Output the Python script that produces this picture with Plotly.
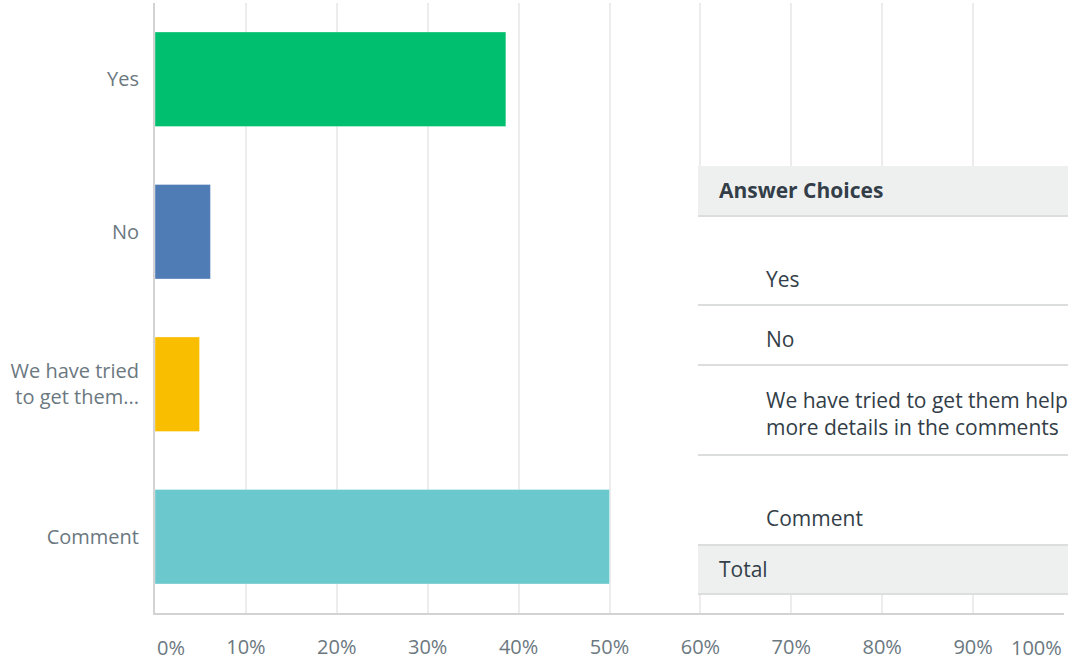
import plotly.graph_objects as go

categories = ["Yes", "No", "We have tried<br>to get them...", "Comment"]
values = [38.6, 6.1, 4.9, 50.0]
colors = ["#00bf6f", "#507cb6", "#f9be00", "#6bc8cd"]
tick_vals = [0, 10, 20, 30, 40, 50, 60, 70, 80, 90, 100]
tick_text = ["0%", "10%", "20%", "30%", "40%", "50%", "60%", "70%", "80%", "90%", "100%"]

table_header = "Answer Choices"
table_rows = ["Yes", "No", "We have tried to get them help, see<br>more details in the comments", "Comment"]
table_total = "Total"

W, H = 1068, 662
L, R, T, B = 155, 4, 3, 49
pw, ph = W - L - R, H - T - B


def px(x):
    return (x - L) / pw


def py(y):
    return 1 - (y - T) / ph


fig = go.Figure()
fig.add_trace(go.Bar(
    y=categories, x=values, orientation="h",
    marker=dict(color=colors, line=dict(color="rgba(255,255,255,0.35)", width=1)),
    width=0.62, hoverinfo="skip",
))

shapes = []
shapes.append(dict(type="rect", xref="paper", yref="paper", x0=px(698), x1=px(1080), y0=py(594), y1=py(166),
                   fillcolor="white", line=dict(width=0), layer="above"))
shapes.append(dict(type="rect", xref="paper", yref="paper", x0=px(698), x1=px(1080), y0=py(216), y1=py(166),
                   fillcolor="#eef0f0", line=dict(width=0), layer="above"))
shapes.append(dict(type="rect", xref="paper", yref="paper", x0=px(698), x1=px(1080), y0=py(594), y1=py(545),
                   fillcolor="#eef0f0", line=dict(width=0), layer="above"))
for yy in [216, 305, 365, 455, 545, 594]:
    shapes.append(dict(type="line", xref="paper", yref="paper", x0=px(698), x1=px(1080), y0=py(yy), y1=py(yy),
                       line=dict(color="#dcdede", width=2), layer="above"))

ann = []
tfont = dict(family="Open Sans", size=21, color="#333e48")
ann.append(dict(text="<b>" + table_header + "</b>", x=px(717), y=py(190), xref="paper", yref="paper",
                xanchor="left", yanchor="middle", showarrow=False, font=tfont))
row_y = [279, 339, 413, 518]
for t, yy in zip(table_rows, row_y):
    ann.append(dict(text=t, x=px(764), y=py(yy), xref="paper", yref="paper", xanchor="left", yanchor="middle",
                    align="left", showarrow=False, font=tfont))
ann.append(dict(text=table_total, x=px(717), y=py(569), xref="paper", yref="paper", xanchor="left",
                yanchor="middle", showarrow=False, font=tfont))

# end tick labels, shifted inside the plot width as in the reference
lab_font = dict(family="Open Sans", size=20, color="#6b787f")
ann.append(dict(text=tick_text[0], x=tick_vals[0], xref="x", y=py(647), yref="paper", xanchor="left",
                yanchor="middle", showarrow=False, font=lab_font))
ann.append(dict(text=tick_text[-1], x=tick_vals[-1], xref="x", y=py(647), yref="paper", xanchor="right",
                yanchor="middle", showarrow=False, font=lab_font))
axis_text = [""] + tick_text[1:-1] + [""]

fig.update_layout(
    width=W, height=H,
    margin=dict(l=L, r=R, t=T, b=B, pad=0),
    paper_bgcolor="white", plot_bgcolor="white",
    showlegend=False,
    font=dict(family="Open Sans", size=20, color="#6b787f"),
    shapes=shapes, annotations=ann,
    xaxis=dict(range=[0, 100], tickvals=tick_vals, ticktext=axis_text, showgrid=True, gridcolor="#ececec",
               gridwidth=2, zeroline=False, showline=True, linecolor="#d3d3d3", linewidth=2,
               ticks="", ticklabelstandoff=15, automargin=False, fixedrange=True),
    yaxis=dict(autorange="reversed", showline=True, linecolor="#d3d3d3", linewidth=2, showgrid=False,
               zeroline=False, ticks="", ticklabelstandoff=10, automargin=False, fixedrange=True,
               tickfont=dict(size=20)),
)

fig.write_html("out.html", config={"displayModeBar": False},
               post_script="document.body.style.margin='0';document.body.style.overflow='hidden';")
